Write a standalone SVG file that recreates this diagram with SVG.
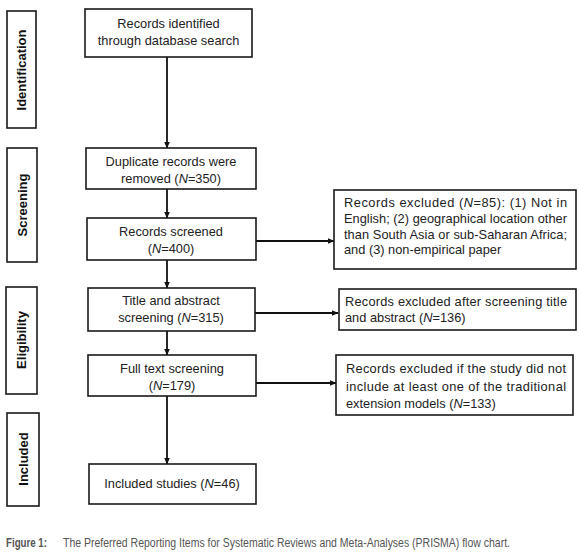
<svg xmlns="http://www.w3.org/2000/svg" width="580" height="552" viewBox="0 0 580 552">
<style>
.box{fill:#fff;stroke:#1a1a1a;stroke-width:1.6}
.t{font-family:"Liberation Sans",Arial,sans-serif;font-size:12.8px;fill:#222}
.c{text-anchor:middle}
.lab{font-family:"Liberation Sans",Arial,sans-serif;font-size:13px;font-weight:bold;fill:#111;text-anchor:middle}
.con{stroke:#111;stroke-width:1.8;fill:none}
.cap{font-family:"Liberation Sans",Arial,sans-serif;font-size:12px;fill:#555}
</style>
<defs>
<marker id="ah" markerWidth="7" markerHeight="6" refX="6.5" refY="3" orient="auto" markerUnits="userSpaceOnUse">
<path d="M0,0 L7,3 L0,6 Z" fill="#111"/>
</marker>
</defs>
<rect width="580" height="552" fill="#fff"/>

<g id="label-identification">
<rect class="box" x="7" y="11" width="29" height="117"/>
<text class="lab" transform="translate(26,70) rotate(-90)">Identification</text>
</g>
<g id="label-screening">
<rect class="box" x="7" y="148" width="30" height="114"/>
<text class="lab" transform="translate(26.5,205) rotate(-90)">Screening</text>
</g>
<g id="label-eligibility">
<rect class="box" x="6" y="287" width="31" height="107"/>
<text class="lab" transform="translate(26,340) rotate(-90)">Eligibility</text>
</g>
<g id="label-included">
<rect class="box" x="7" y="413" width="32" height="93"/>
<text class="lab" transform="translate(27.5,459) rotate(-90)">Included</text>
</g>

<g id="connectors">
<line class="con" x1="167" y1="57" x2="167" y2="148" marker-end="url(#ah)"/>
<line class="con" x1="167" y1="189" x2="167" y2="218" marker-end="url(#ah)"/>
<line class="con" x1="167" y1="260" x2="167" y2="288" marker-end="url(#ah)"/>
<line class="con" x1="167" y1="331" x2="167" y2="355" marker-end="url(#ah)"/>
<line class="con" x1="167" y1="396" x2="167" y2="464" marker-end="url(#ah)"/>
<line class="con" x1="256" y1="241" x2="334" y2="241" marker-end="url(#ah)"/>
<line class="con" x1="255" y1="313" x2="338" y2="313" marker-end="url(#ah)"/>
<line class="con" x1="256" y1="383" x2="336" y2="383" marker-end="url(#ah)"/>
</g>

<g id="n-identified">
<rect class="box" x="85" y="9" width="167" height="48"/>
<text class="t c" x="168.5" y="28">Records identified</text>
<text class="t c" x="168.5" y="45">through database search</text>
</g>
<g id="n-duplicates">
<rect class="box" x="86" y="148" width="170" height="41"/>
<text class="t c" x="171" y="166">Duplicate records were</text>
<text class="t c" x="171" y="183">removed (<tspan font-style="italic">N</tspan>=350)</text>
</g>
<g id="n-screened">
<rect class="box" x="87" y="218" width="169" height="42"/>
<text class="t c" x="171" y="236">Records screened</text>
<text class="t c" x="171" y="253">(<tspan font-style="italic">N</tspan>=400)</text>
</g>
<g id="n-title-abstract">
<rect class="box" x="88" y="288" width="167" height="43"/>
<text class="t c" x="171" y="305">Title and abstract</text>
<text class="t c" x="171" y="322">screening (<tspan font-style="italic">N</tspan>=315)</text>
</g>
<g id="n-fulltext">
<rect class="box" x="88" y="355" width="168" height="41"/>
<text class="t c" x="172" y="373">Full text screening</text>
<text class="t c" x="172" y="390">(<tspan font-style="italic">N</tspan>=179)</text>
</g>
<g id="n-included">
<rect class="box" x="89" y="464" width="167" height="40"/>
<text class="t c" x="172" y="488">Included studies (<tspan font-style="italic">N</tspan>=46)</text>
</g>

<g id="n-excluded-1">
<rect class="box" x="334" y="190" width="242" height="79"/>
<text class="t" x="344" y="207" textLength="223" lengthAdjust="spacing">Records excluded (<tspan font-style="italic">N</tspan>=85): (1) Not in</text>
<text class="t" x="344" y="223" textLength="223" lengthAdjust="spacing">English; (2) geographical location other</text>
<text class="t" x="344" y="239" textLength="223" lengthAdjust="spacing">than South Asia or sub-Saharan Africa;</text>
<text class="t" x="344" y="254">and (3) non-empirical paper</text>
</g>
<g id="n-excluded-2">
<rect class="box" x="339" y="289" width="237" height="41"/>
<text class="t" x="345" y="306" textLength="222" lengthAdjust="spacing">Records excluded after screening title</text>
<text class="t" x="345" y="322">and abstract (<tspan font-style="italic">N</tspan>=136)</text>
</g>
<g id="n-excluded-3">
<rect class="box" x="336" y="355" width="237" height="60"/>
<text class="t" x="346" y="373" textLength="220" lengthAdjust="spacing">Records excluded if the study did not</text>
<text class="t" x="346" y="391" textLength="220" lengthAdjust="spacing">include at least one of the traditional</text>
<text class="t" x="346" y="408">extension models (<tspan font-style="italic">N</tspan>=133)</text>
</g>

<text class="cap" x="6" y="547" font-weight="bold" fill="#444" textLength="41" lengthAdjust="spacingAndGlyphs">Figure 1:</text>
<text class="cap" x="63" y="547" textLength="447" lengthAdjust="spacingAndGlyphs">The Preferred Reporting Items for Systematic Reviews and Meta-Analyses (PRISMA) flow chart.</text>
</svg>
